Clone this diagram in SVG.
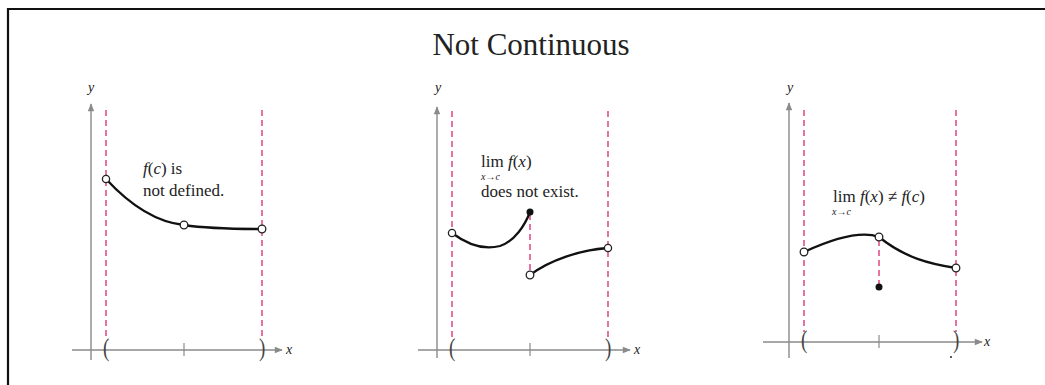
<svg xmlns="http://www.w3.org/2000/svg" width="1045" height="385" viewBox="0 0 1045 385">
<defs>
<marker id="ah" viewBox="0 0 10 10" refX="9" refY="5" markerWidth="10" markerHeight="8" markerUnits="userSpaceOnUse" orient="auto">
<path d="M0,1 L10,5 L0,9 Z" fill="#8a8a8a"/>
</marker>
<style>
.axis{stroke:#8a8a8a;stroke-width:1.4;fill:none}
.tick{stroke:#8a8a8a;stroke-width:1.2}
.dash{stroke:#e0508a;stroke-width:1.6;stroke-dasharray:6,4;fill:none}
.curve{stroke:#111;stroke-width:2.3;fill:none}
.open{fill:#fff;stroke:#222;stroke-width:1.3}
.dot{fill:#111}
.serif{font-family:"Liberation Serif","Times New Roman",serif;fill:#222}
.lbl{font-size:14px;font-style:italic}
.note{font-size:17px}
.sub{font-size:10px;font-style:italic}
.par{font-size:19px;fill:#444}
</style>
</defs>
<rect width="1045" height="385" fill="#fff"/>
<path d="M8,385 L8,9 L1045,9" fill="none" stroke="#111" stroke-width="2.2"/>
<text class="serif" x="531" y="55" text-anchor="middle" font-size="31" fill="#000">Not Continuous</text>

<g id="graph1">
<line class="axis" x1="91" y1="360" x2="91" y2="104" marker-end="url(#ah)"/>
<line class="axis" x1="72" y1="350" x2="282" y2="350" marker-end="url(#ah)"/>
<text class="serif lbl" x="91" y="92" text-anchor="middle">y</text>
<text class="serif lbl" x="286" y="354">x</text>
<line class="tick" x1="184" y1="343" x2="184" y2="356"/>
<line class="dash" x1="106" y1="110" x2="106" y2="338"/>
<line class="dash" x1="262" y1="110" x2="262" y2="338"/>
<text class="serif par" transform="translate(103,356) scale(1,1.35)">(</text>
<text class="serif par" transform="translate(259,356) scale(1,1.35)">)</text>
<path class="curve" d="M106,179 C130,205 155,222 184,225 C210,229 240,229 262,229"/>
<circle class="open" cx="106" cy="179" r="3.6"/>
<circle class="open" cx="184" cy="225" r="3.8"/>
<circle class="open" cx="262" cy="229" r="3.8"/>
<text class="serif note" x="143" y="174"><tspan font-style="italic">f</tspan>(<tspan font-style="italic">c</tspan>) is</text>
<text class="serif note" x="143" y="196">not defined.</text>
</g>

<g id="graph2">
<line class="axis" x1="437" y1="358" x2="437" y2="107" marker-end="url(#ah)"/>
<line class="axis" x1="418" y1="350" x2="630" y2="350" marker-end="url(#ah)"/>
<text class="serif lbl" x="438" y="92" text-anchor="middle">y</text>
<text class="serif lbl" x="634" y="354">x</text>
<line class="tick" x1="530" y1="343" x2="530" y2="356"/>
<line class="dash" x1="452" y1="111" x2="452" y2="338"/>
<line class="dash" x1="608" y1="111" x2="608" y2="338"/>
<line class="dash" x1="530" y1="214" x2="530" y2="272"/>
<text class="serif par" transform="translate(449,356) scale(1,1.35)">(</text>
<text class="serif par" transform="translate(605,356) scale(1,1.35)">)</text>
<path class="curve" d="M452,233 C468,245 485,250 500,246 C515,241 525,225 530,212"/>
<path class="curve" d="M530,275 C550,260 580,250 608,248"/>
<circle class="open" cx="452" cy="233" r="3.6"/>
<circle class="dot" cx="530" cy="212" r="3.5"/>
<circle class="open" cx="530" cy="275" r="3.8"/>
<circle class="open" cx="608" cy="248" r="3.6"/>
<text class="serif note" x="481" y="167">lim <tspan font-style="italic">f</tspan>(<tspan font-style="italic">x</tspan>)</text>
<text class="serif sub" x="481" y="180">x→c</text>
<text class="serif note" x="481" y="197">does not exist.</text>
</g>

<g id="graph3">
<line class="axis" x1="789" y1="358" x2="789" y2="103" marker-end="url(#ah)"/>
<line class="axis" x1="763" y1="342" x2="982" y2="342" marker-end="url(#ah)"/>
<text class="serif lbl" x="790" y="92" text-anchor="middle">y</text>
<text class="serif lbl" x="984" y="346">x</text>
<line class="tick" x1="879" y1="335" x2="879" y2="348"/>
<line class="dash" x1="804" y1="110" x2="804" y2="332"/>
<line class="dash" x1="956" y1="110" x2="956" y2="332"/>
<line class="dash" x1="879" y1="240" x2="879" y2="285"/>
<text class="serif par" transform="translate(801,348) scale(1,1.35)">(</text>
<text class="serif par" transform="translate(953,348) scale(1,1.35)">)</text>
<circle class="dot" cx="951" cy="357" r="0.9"/>
<path class="curve" d="M804,252 C830,240 860,230 879,237 C905,258 930,264 956,268"/>
<circle class="open" cx="804" cy="252" r="3.8"/>
<circle class="open" cx="879" cy="237" r="3.8"/>
<circle class="open" cx="956" cy="268" r="3.8"/>
<circle class="dot" cx="879" cy="287" r="3.5"/>
<text class="serif note" x="833" y="202">lim <tspan font-style="italic">f</tspan>(<tspan font-style="italic">x</tspan>) ≠ <tspan font-style="italic">f</tspan>(<tspan font-style="italic">c</tspan>)</text>
<text class="serif sub" x="832" y="215">x→c</text>
</g>
</svg>
